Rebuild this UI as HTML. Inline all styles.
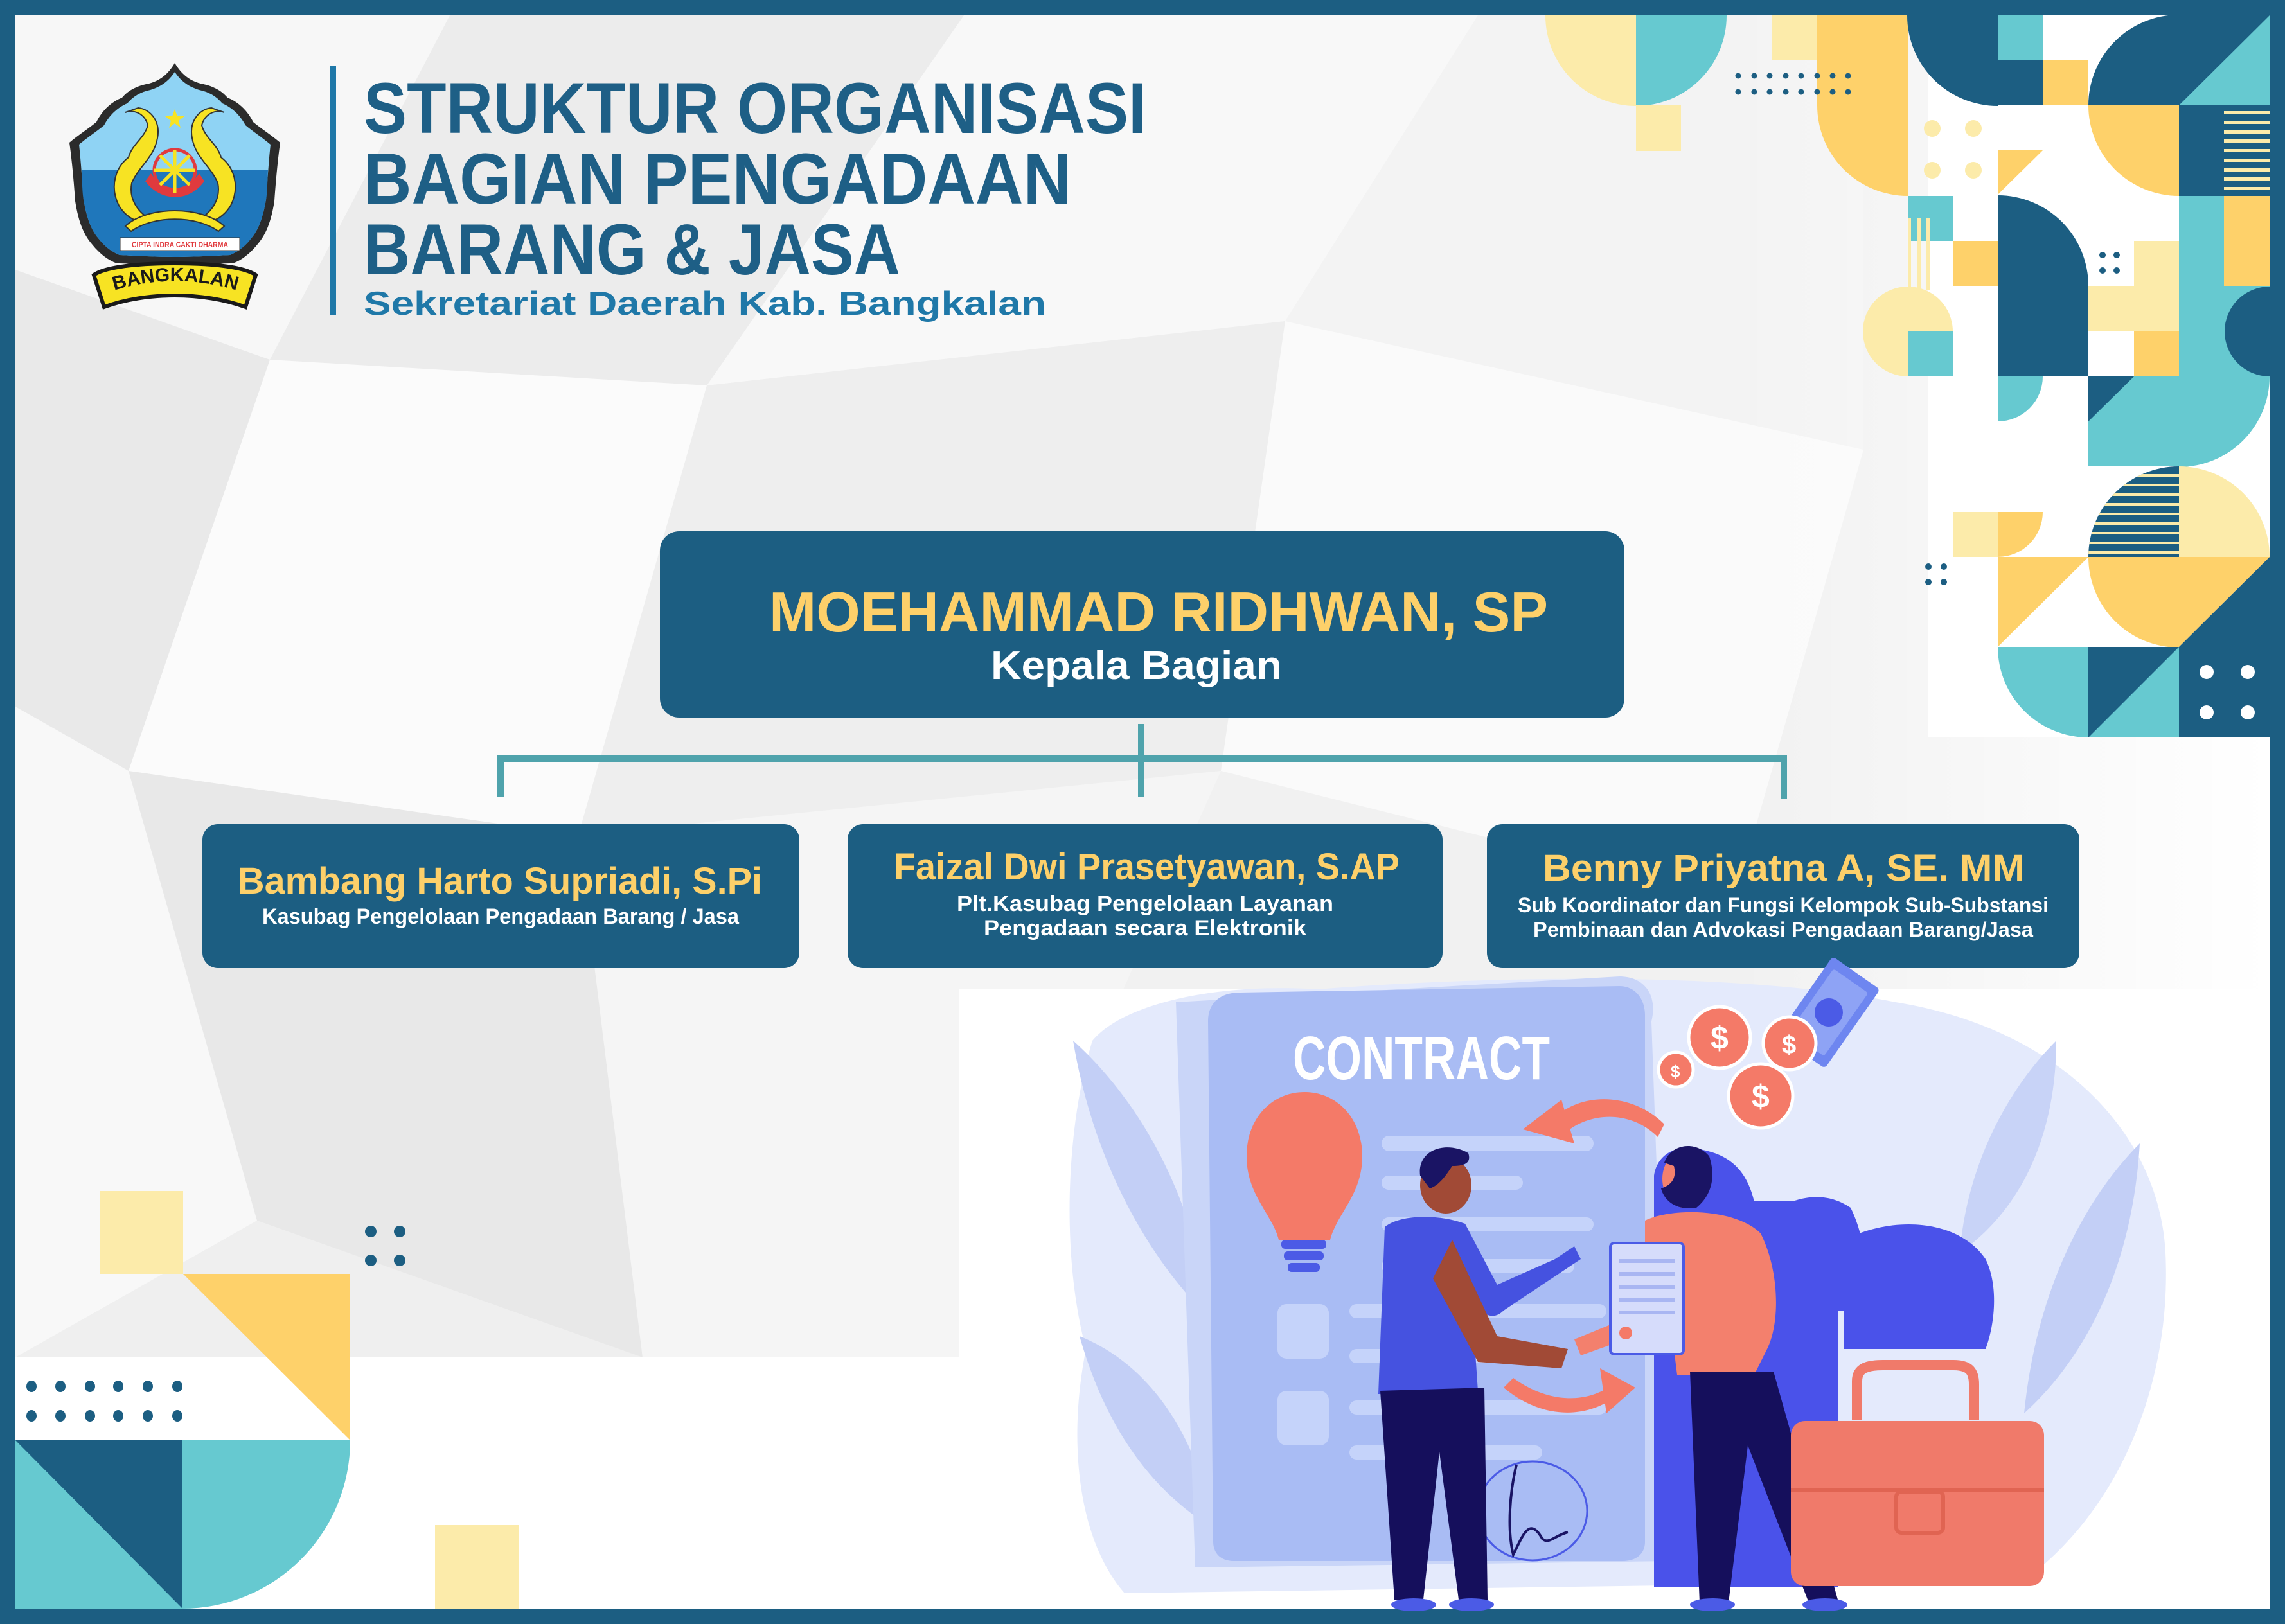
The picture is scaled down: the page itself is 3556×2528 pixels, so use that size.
<!DOCTYPE html>
<html><head><meta charset="utf-8"><style>
html,body{margin:0;padding:0;width:3556px;height:2528px;overflow:hidden;background:#fff}
svg{display:block}
text{font-family:"Liberation Sans",sans-serif;font-weight:bold}
</style></head><body>
<svg width="3556" height="2528" viewBox="0 0 3556 2528" xmlns="http://www.w3.org/2000/svg">
<defs>
<clipPath id="qtl"><path d="M3391,867 L3250,867 A141 141 0 0 1 3391,726 Z"/></clipPath>
<clipPath id="bgclip"><path d="M24,24 H3532 V1540 H1492 V2113 H24 Z"/></clipPath>
<linearGradient id="fadeR" x1="0" x2="1" y1="0" y2="0"><stop offset="0" stop-color="#fff" stop-opacity="0"/><stop offset="1" stop-color="#fff" stop-opacity="1"/></linearGradient>
</defs>
<rect width="3556" height="2528" fill="#1c5e82"/>
<rect x="24" y="24" width="3508" height="2480" fill="#fff"/>
<!-- grey polygon background -->
<g clip-path="url(#bgclip)">
<rect x="24" y="24" width="3508" height="2100" fill="#f1f1f1"/>
<polygon points="24,24 700,24 420,560 24,420" fill="#f7f7f7"/>
<polygon points="700,24 1500,24 1100,600 420,560" fill="#ececec"/>
<polygon points="1500,24 2300,24 2000,500 1100,600" fill="#f8f8f8"/>
<polygon points="2300,24 2900,24 2900,700 2000,500" fill="#f3f3f3"/>
<polygon points="24,420 420,560 200,1200 24,1100" fill="#e9e9e9"/>
<polygon points="420,560 1100,600 900,1300 200,1200" fill="#fbfbfb"/>
<polygon points="1100,600 2000,500 1900,1200 900,1300" fill="#eeeeee"/>
<polygon points="2000,500 2900,700 2700,1400 1900,1200" fill="#fafafa"/>
<polygon points="24,1100 200,1200 400,1900 24,2113" fill="#f8f8f8"/>
<polygon points="200,1200 900,1300 1000,2113 400,1900" fill="#e8e8e8"/>
<polygon points="900,1300 1900,1200 1492,2113 1000,2113" fill="#f5f5f5"/>
<polygon points="400,1900 1000,2113 24,2113" fill="#efefef"/>
<rect x="2700" y="24" width="832" height="1520" fill="url(#fadeR)"/>
</g>
<rect x="3000" y="24" width="532" height="1124" fill="#fff"/>

<!-- top-right decor -->
<path d="M2546,24 L2405,24 A141 141 0 0 0 2546,165 Z" fill="#fcebaa"/>
<path d="M2546,24 L2687,24 A141 141 0 0 1 2546,165 Z" fill="#66c9d0"/>
<rect x="2546" y="164" width="70" height="71" fill="#fcebaa"/>
<rect x="2757" y="24" width="71" height="70" fill="#fcebaa"/>
<rect x="2828" y="24" width="141" height="141" fill="#fed16a"/>
<path d="M2969,164 L2828,164 A141 141 0 0 0 2969,305 Z" fill="#fed16a"/>
<g fill="#1c5e82">
<circle cx="2705" cy="118" r="4.5"/><circle cx="2730" cy="118" r="4.5"/><circle cx="2754" cy="118" r="4.5"/><circle cx="2779" cy="118" r="4.5"/><circle cx="2803" cy="118" r="4.5"/><circle cx="2828" cy="118" r="4.5"/><circle cx="2852" cy="118" r="4.5"/><circle cx="2876" cy="118" r="4.5"/>
<circle cx="2705" cy="143" r="4.5"/><circle cx="2730" cy="143" r="4.5"/><circle cx="2754" cy="143" r="4.5"/><circle cx="2779" cy="143" r="4.5"/><circle cx="2803" cy="143" r="4.5"/><circle cx="2828" cy="143" r="4.5"/><circle cx="2852" cy="143" r="4.5"/><circle cx="2876" cy="143" r="4.5"/>
</g>
<path d="M3109,24 L2968,24 A141 141 0 0 0 3109,165 Z" fill="#1c5e82"/>
<rect x="3109" y="24" width="70" height="70" fill="#66c9d0"/>
<rect x="3109" y="94" width="70" height="70" fill="#1c5e82"/>
<rect x="3179" y="94" width="71" height="70" fill="#fed16a"/>
<path d="M3391,164 L3250,164 A141 141 0 0 1 3391,23 Z" fill="#1c5e82"/>
<rect x="3391" y="24" width="141" height="140" fill="#1c5e82"/>
<polygon points="3391,164 3532,24 3532,164" fill="#66c9d0"/>
<path d="M3391,164 L3250,164 A141 141 0 0 0 3391,305 Z" fill="#fed16a"/>
<rect x="3391" y="164" width="141" height="141" fill="#1c5e82"/>
<g fill="#fcebaa"><rect x="3461" y="173" width="71" height="5"/><rect x="3461" y="188" width="71" height="5"/><rect x="3461" y="203" width="71" height="5"/><rect x="3461" y="217" width="71" height="5"/><rect x="3461" y="232" width="71" height="5"/><rect x="3461" y="247" width="71" height="5"/><rect x="3461" y="262" width="71" height="5"/><rect x="3461" y="276" width="71" height="5"/><rect x="3461" y="291" width="71" height="5"/></g>
<g fill="#fcebaa"><circle cx="3007" cy="200" r="13"/><circle cx="3071" cy="200" r="13"/><circle cx="3007" cy="265" r="13"/><circle cx="3071" cy="265" r="13"/></g>
<polygon points="3109,234 3179,234 3109,303" fill="#fed16a"/>
<rect x="2969" y="305" width="70" height="70" fill="#66c9d0"/>
<g fill="#fcebaa"><rect x="2969" y="340" width="5" height="112"/><rect x="2984" y="340" width="5" height="112"/><rect x="2998" y="340" width="5" height="112"/></g>
<rect x="3039" y="375" width="70" height="70" fill="#fed16a"/>
<path d="M3109,445 L3109,304 A141 141 0 0 1 3250,445 Z" fill="#1c5e82"/>
<g fill="#1c5e82"><circle cx="3272" cy="397" r="5"/><circle cx="3294" cy="397" r="5"/><circle cx="3272" cy="421" r="5"/><circle cx="3294" cy="421" r="5"/></g>
<rect x="3321" y="375" width="70" height="70" fill="#fcebaa"/>
<rect x="3391" y="305" width="70" height="140" fill="#66c9d0"/>
<rect x="3461" y="305" width="71" height="140" fill="#fed16a"/>
<circle cx="2969" cy="516" r="70" fill="#fcebaa"/>
<rect x="2969" y="516" width="70" height="70" fill="#66c9d0"/>
<rect x="3109" y="445" width="141" height="141" fill="#1c5e82"/>
<rect x="3250" y="445" width="141" height="71" fill="#fcebaa"/>
<rect x="3321" y="516" width="70" height="70" fill="#fed16a"/>
<rect x="3391" y="445" width="141" height="141" fill="#66c9d0"/>
<path d="M3532,446 A70 70 0 0 0 3532,586 Z" fill="#1c5e82"/>
<path d="M3109,586 L3179,586 A70 70 0 0 1 3109,656 Z" fill="#66c9d0"/>
<rect x="3250" y="586" width="141" height="140" fill="#66c9d0"/>
<polygon points="3250,586 3321,586 3250,656" fill="#1c5e82"/>
<path d="M3391,586 L3532,586 A141 141 0 0 1 3391,727 Z" fill="#66c9d0"/>
<rect x="3039" y="797" width="70" height="70" fill="#fcebaa"/>
<path d="M3109,797 L3179,797 A70 70 0 0 1 3109,867 Z" fill="#fed16a"/>
<path d="M3391,867 L3250,867 A141 141 0 0 1 3391,726 Z" fill="#1c5e82"/>
<g clip-path="url(#qtl)" fill="#fcebaa"><rect x="3250" y="738" width="141" height="4"/><rect x="3250" y="753" width="141" height="4"/><rect x="3250" y="768" width="141" height="4"/><rect x="3250" y="783" width="141" height="4"/><rect x="3250" y="798" width="141" height="4"/><rect x="3250" y="813" width="141" height="4"/><rect x="3250" y="828" width="141" height="4"/><rect x="3250" y="843" width="141" height="4"/><rect x="3250" y="858" width="141" height="4"/></g>
<path d="M3391,867 L3391,726 A141 141 0 0 1 3532,867 Z" fill="#fcebaa"/>
<g fill="#1c5e82"><circle cx="3001" cy="882" r="5"/><circle cx="3025" cy="882" r="5"/><circle cx="3001" cy="906" r="5"/><circle cx="3025" cy="906" r="5"/></g>
<polygon points="3109,867 3250,867 3109,1007" fill="#fed16a"/>
<path d="M3391,867 L3250,867 A141 141 0 0 0 3391,1008 Z" fill="#fed16a"/>
<polygon points="3391,867 3532,867 3391,1007" fill="#fed16a"/>
<polygon points="3532,867 3532,1007 3391,1007" fill="#1c5e82"/>
<path d="M3250,1007 L3109,1007 A141 141 0 0 0 3250,1148 Z" fill="#66c9d0"/>
<rect x="3250" y="1007" width="141" height="141" fill="#66c9d0"/>
<polygon points="3250,1007 3391,1007 3250,1148" fill="#1c5e82"/>
<rect x="3391" y="1007" width="141" height="141" fill="#1c5e82"/>
<g fill="#fff"><circle cx="3434" cy="1046" r="11"/><circle cx="3498" cy="1046" r="11"/><circle cx="3434" cy="1109" r="11"/><circle cx="3498" cy="1109" r="11"/></g>

<!-- bottom-left decor -->
<rect x="156" y="1854" width="129" height="129" fill="#fcebaa"/>
<polygon points="285,1983 545,1983 545,2242" fill="#fed16a"/>
<g fill="#1c5e82">
<ellipse cx="49" cy="2158" rx="8" ry="9"/><ellipse cx="94" cy="2158" rx="8" ry="9"/><ellipse cx="140" cy="2158" rx="8" ry="9"/><ellipse cx="184" cy="2158" rx="8" ry="9"/><ellipse cx="230" cy="2158" rx="8" ry="9"/><ellipse cx="276" cy="2158" rx="8" ry="9"/>
<ellipse cx="49" cy="2204" rx="8" ry="9"/><ellipse cx="94" cy="2204" rx="8" ry="9"/><ellipse cx="140" cy="2204" rx="8" ry="9"/><ellipse cx="184" cy="2204" rx="8" ry="9"/><ellipse cx="230" cy="2204" rx="8" ry="9"/><ellipse cx="276" cy="2204" rx="8" ry="9"/>
<ellipse cx="577" cy="1917" rx="9" ry="9"/><ellipse cx="622" cy="1917" rx="9" ry="9"/><ellipse cx="577" cy="1962" rx="9" ry="9"/><ellipse cx="622" cy="1962" rx="9" ry="9"/>
</g>
<rect x="24" y="2242" width="260" height="262" fill="#1c5e82"/>
<polygon points="24,2242 284,2504 24,2504" fill="#66c9d0"/>
<path d="M284,2242 L545,2242 A261 262 0 0 1 284,2504 Z" fill="#66c9d0"/>
<rect x="677" y="2374" width="131" height="130" fill="#fcebaa"/>

<!-- logo -->
<path d="M272,98 C262,115 250,125 232,130 C215,133 200,140 190,152 C175,158 160,170 150,190 C138,200 122,210 108,222 C112,250 115,285 117,313 C122,345 130,365 143,380 C155,395 168,405 182,410 C205,410 240,413 272,413 C304,413 339,410 362,410 C376,405 389,395 401,380 C414,365 422,345 427,313 C429,285 432,250 436,222 C422,210 406,200 394,190 C384,170 369,158 354,152 C344,140 329,133 312,130 C294,125 282,115 272,98 Z" fill="#2b2b2b"/>
<path d="M272,112 C262,127 250,135 234,140 C219,143 207,150 198,161 C184,167 171,178 162,195 C150,205 136,214 123,225 C126,252 128,285 130,311 C135,340 142,358 153,371 C163,384 174,392 186,397 C208,398 240,400 272,400 C304,400 336,398 358,397 C370,392 381,384 391,371 C402,358 409,340 414,311 C416,285 418,252 421,225 C408,214 394,205 382,195 C373,178 360,167 346,161 C337,150 325,143 310,140 C294,135 282,127 272,112 Z" fill="#8fd3f4"/>
<path d="M127,265 H417 C416,285 416,300 414,311 C409,340 402,358 391,371 C381,384 370,392 358,397 C336,398 304,400 272,400 C240,400 208,398 186,397 C174,392 163,384 153,371 C142,358 135,340 130,311 C128,300 128,285 127,265 Z" fill="#1f77bb"/>
<path d="M195,175 C205,170 225,175 230,195 C225,215 205,225 200,245 C180,260 170,290 185,320 C200,345 225,350 232,340 C215,330 200,310 205,285 C215,260 240,245 245,215 C250,190 235,170 215,168 Z" fill="#f7e323" stroke="#333" stroke-width="2"/>
<path d="M349,175 C339,170 319,175 314,195 C319,215 339,225 344,245 C364,260 374,290 359,320 C344,345 319,350 312,340 C329,330 344,310 339,285 C329,260 304,245 299,215 C294,190 309,170 329,168 Z" fill="#f7e323" stroke="#333" stroke-width="2"/>
<circle cx="272" cy="265" r="32" fill="none" stroke="#e03a3e" stroke-width="5"/>
<path d="M235,270 C255,300 290,300 310,270 L318,282 C295,315 250,315 226,282 Z" fill="#e03a3e"/>
<g stroke="#f7e323" stroke-width="5"><line x1="272" y1="233" x2="272" y2="300"/><line x1="240" y1="265" x2="304" y2="265"/><line x1="249" y1="242" x2="295" y2="288"/><line x1="295" y1="242" x2="249" y2="288"/></g>
<path d="M195,352 C230,320 314,320 349,352 L340,360 C305,335 239,335 204,360 Z" fill="#f7e323" stroke="#333" stroke-width="2"/>
<polygon points="272,170 276,181 287,181 278,188 281,199 272,192 263,199 266,188 257,181 268,181" fill="#f7e323"/>
<rect x="187" y="370" width="186" height="20" fill="#fff" stroke="#333" stroke-width="1"/>
<text x="280" y="385" font-size="12" fill="#e03a3e" text-anchor="middle" textLength="150" lengthAdjust="spacingAndGlyphs">CIPTA INDRA CAKTI DHARMA</text>
<path d="M146,428 C160,418 200,410 272,410 C344,410 384,418 398,428 L382,478 C350,466 310,460 272,460 C234,460 194,466 162,478 Z" fill="#f7e323" stroke="#1a1a1a" stroke-width="6"/>
<path id="barc" d="M168,455 Q272,420 378,455" fill="none"/>
<text font-size="30" fill="#1a1a1a"><textPath href="#barc" startOffset="50%" text-anchor="middle">BANGKALAN</textPath></text>

<!-- title -->
<rect x="513" y="103" width="10" height="387" fill="#1f78a8"/>
<text x="566" y="207" font-size="112" fill="#1e5f86" textLength="1218" lengthAdjust="spacingAndGlyphs">STRUKTUR ORGANISASI</text>
<text x="566" y="317" font-size="112" fill="#1e5f86" textLength="1101" lengthAdjust="spacingAndGlyphs">BAGIAN PENGADAAN</text>
<text x="566" y="427" font-size="112" fill="#1e5f86" textLength="835" lengthAdjust="spacingAndGlyphs">BARANG &amp; JASA</text>
<text x="566" y="490" font-size="52" fill="#1f78a8" textLength="1062" lengthAdjust="spacingAndGlyphs">Sekretariat Daerah Kab. Bangkalan</text>

<!-- org chart -->
<rect x="1027" y="827" width="1501" height="290" rx="30" fill="#1c5e82"/>
<text x="1197" y="983" font-size="88" fill="#fdd06a" textLength="1212" lengthAdjust="spacingAndGlyphs">MOEHAMMAD RIDHWAN, SP</text>
<text x="1542" y="1057" font-size="62" fill="#fff" textLength="453" lengthAdjust="spacingAndGlyphs">Kepala Bagian</text>
<g fill="#4fa3ac">
<rect x="1771" y="1127" width="10" height="113"/>
<rect x="776" y="1176" width="2003" height="10"/>
<rect x="774" y="1176" width="10" height="64"/>
<rect x="2771" y="1176" width="10" height="67"/>
</g>
<rect x="315" y="1283" width="929" height="224" rx="24" fill="#1c5e82"/>
<rect x="1319" y="1283" width="926" height="224" rx="24" fill="#1c5e82"/>
<rect x="2314" y="1283" width="922" height="224" rx="24" fill="#1c5e82"/>
<text x="370" y="1391" font-size="58" fill="#fdd06a" textLength="816" lengthAdjust="spacingAndGlyphs">Bambang Harto Supriadi, S.Pi</text>
<text x="408" y="1438" font-size="34" fill="#fff" textLength="742" lengthAdjust="spacingAndGlyphs">Kasubag Pengelolaan Pengadaan Barang / Jasa</text>
<text x="1391" y="1369" font-size="58" fill="#fdd06a" textLength="787" lengthAdjust="spacingAndGlyphs">Faizal Dwi Prasetyawan, S.AP</text>
<text x="1489" y="1418" font-size="34" fill="#fff" textLength="586" lengthAdjust="spacingAndGlyphs">Plt.Kasubag Pengelolaan Layanan</text>
<text x="1531" y="1456" font-size="34" fill="#fff" textLength="502" lengthAdjust="spacingAndGlyphs">Pengadaan secara Elektronik</text>
<text x="2401" y="1371" font-size="58" fill="#fdd06a" textLength="750" lengthAdjust="spacingAndGlyphs">Benny Priyatna A, SE. MM</text>
<text x="2362" y="1420" font-size="32" fill="#fff" textLength="826" lengthAdjust="spacingAndGlyphs">Sub Koordinator dan Fungsi Kelompok Sub-Substansi</text>
<text x="2386" y="1458" font-size="32" fill="#fff" textLength="778" lengthAdjust="spacingAndGlyphs">Pembinaan dan Advokasi Pengadaan Barang/Jasa</text>

<!-- illustration -->
<path d="M1700,1620 C1750,1560 1900,1530 2050,1540 C2300,1520 2700,1510 2950,1560 C3200,1600 3360,1760 3370,1950 C3380,2150 3300,2350 3150,2460 L1750,2480 C1680,2400 1660,2250 1690,2100 C1650,1950 1660,1750 1700,1620 Z" fill="#e4eafc"/>
<path d="M1670,1620 C1760,1700 1860,1850 1880,2050 C1780,1950 1700,1800 1670,1620 Z" fill="#c3cff6"/>
<path d="M1680,2080 C1780,2120 1860,2220 1890,2380 C1790,2320 1720,2220 1680,2080 Z" fill="#c3cff6"/>
<path d="M3330,1780 C3250,1860 3170,2000 3150,2200 C3260,2100 3320,1950 3330,1780 Z" fill="#c3cff6"/>
<path d="M3200,1620 C3120,1700 3060,1820 3050,1950 C3150,1880 3200,1760 3200,1620 Z" fill="#c8d3f7"/>
<path d="M1830,1560 L2520,1520 C2560,1520 2580,1550 2570,1590 L2600,2430 L1860,2440 Z" fill="#c9d5f8"/>
<path d="M2574,1830 C2580,1790 2620,1780 2650,1790 C2700,1800 2720,1830 2730,1870 L2790,1870 C2820,1860 2850,1860 2880,1880 C2900,1920 2910,1980 2900,2040 L2860,2040 L2860,2470 L2574,2470 Z" fill="#4a52ea"/>
<path d="M2870,1930 C2950,1890 3050,1900 3090,1960 C3110,2000 3105,2060 3090,2100 L2870,2100 Z" fill="#4a52ea"/>
<path d="M1880,1590 C1880,1560 1900,1545 1930,1545 L2520,1535 C2545,1535 2560,1555 2560,1580 L2560,2400 C2560,2420 2545,2430 2525,2430 L1920,2430 C1900,2430 1888,2418 1888,2400 Z" fill="#a9bcf4"/>
<g fill="#c5d3fa">
<rect x="2150" y="1768" width="330" height="24" rx="12"/><rect x="2150" y="1830" width="220" height="22" rx="11"/><rect x="2150" y="1895" width="330" height="22" rx="11"/><rect x="2150" y="1960" width="300" height="22" rx="11"/><rect x="2100" y="2030" width="400" height="22" rx="11"/><rect x="2100" y="2100" width="300" height="22" rx="11"/><rect x="2100" y="2180" width="400" height="22" rx="11"/><rect x="2100" y="2250" width="300" height="22" rx="11"/>
<rect x="1988" y="2030" width="80" height="85" rx="14"/><rect x="1988" y="2165" width="80" height="85" rx="14"/>
</g>
<text x="2012" y="1680" font-size="96" fill="#fff" textLength="400" lengthAdjust="spacingAndGlyphs">CONTRACT</text>
<path d="M2030,1700 C2080,1700 2120,1740 2120,1800 C2120,1860 2080,1890 2070,1930 L1990,1930 C1980,1890 1940,1860 1940,1800 C1940,1740 1980,1700 2030,1700 Z" fill="#f47a68"/>
<g fill="#4b5be6"><rect x="1994" y="1930" width="70" height="14" rx="6"/><rect x="1998" y="1948" width="62" height="14" rx="6"/><rect x="2004" y="1966" width="50" height="14" rx="6"/></g>
<g transform="rotate(-55 2846 1576)"><rect x="2771" y="1531" width="150" height="90" rx="6" fill="#6e86f0"/><rect x="2786" y="1543" width="120" height="66" rx="4" fill="#8ea3f5"/><circle cx="2846" cy="1576" r="22" fill="#4b5be6"/></g>
<g fill="#f47a68" stroke="#fff" stroke-width="5"><circle cx="2676" cy="1615" r="48"/><circle cx="2785" cy="1624" r="41"/><circle cx="2608" cy="1665" r="27"/><circle cx="2740" cy="1706" r="50"/></g>
<g fill="#fff" font-size="50"><text x="2662" y="1633">$</text><text x="2773" y="1640" font-size="40">$</text><text x="2600" y="1677" font-size="26">$</text><text x="2726" y="1724">$</text></g>
<path d="M2590,1750 C2540,1700 2460,1700 2420,1740 L2440,1760 C2480,1730 2540,1730 2580,1770 Z" fill="#f47a68"/>
<polygon points="2370,1758 2430,1712 2450,1780" fill="#f47a68"/>
<path d="M2340,2160 C2400,2210 2470,2210 2520,2170 L2510,2155 C2470,2185 2410,2185 2355,2145 Z" fill="#f47a68"/>
<polygon points="2545,2160 2490,2130 2500,2200" fill="#f47a68"/>
<ellipse cx="2385" cy="2352" rx="85" ry="77" fill="none" stroke="#4b5be6" stroke-width="3"/>
<path d="M2360,2280 C2350,2320 2345,2380 2355,2420 C2370,2390 2380,2360 2400,2395 C2410,2405 2420,2390 2440,2385" fill="none" stroke="#1a1464" stroke-width="4"/>
<!-- person 1 -->
<path d="M2155,1910 C2180,1890 2240,1890 2280,1905 L2330,2000 L2420,1960 L2450,1940 L2460,1960 L2340,2040 C2320,2060 2300,2040 2290,2020 L2300,2165 L2145,2170 Z" fill="#4552e0"/>
<path d="M2260,1930 L2330,2080 L2440,2100 L2430,2130 L2300,2120 L2230,1990 Z" fill="#a14a36"/>
<path d="M2148,2165 L2310,2160 L2315,2490 L2270,2490 L2240,2260 L2215,2490 L2170,2490 Z" fill="#150f5c"/>
<ellipse cx="2250" cy="1845" rx="40" ry="44" fill="#a14a36"/>
<path d="M2210,1830 C2205,1790 2250,1775 2285,1795 C2290,1810 2280,1815 2260,1815 C2250,1830 2240,1845 2225,1850 Z" fill="#1a1464"/>
<!-- person 2 -->
<path d="M2560,1900 C2600,1880 2700,1880 2740,1920 C2770,1980 2770,2060 2750,2100 L2730,2140 L2610,2140 L2600,2060 L2460,2110 L2450,2085 L2560,2040 Z" fill="#f3806d"/>
<rect x="2506" y="1935" width="114" height="173" rx="6" fill="#d6dcfb" stroke="#4b5be6" stroke-width="4"/>
<g fill="#a9b6f2"><rect x="2520" y="1960" width="86" height="6"/><rect x="2520" y="1980" width="86" height="6"/><rect x="2520" y="2000" width="86" height="6"/><rect x="2520" y="2020" width="86" height="6"/><rect x="2520" y="2040" width="86" height="6"/></g>
<circle cx="2530" cy="2075" r="10" fill="#f47a68"/>
<path d="M2690,1950 C2730,1990 2740,2050 2700,2080 L2630,2060 L2640,2040 L2690,2040 Z" fill="#f3806d"/>
<path d="M2630,2135 L2760,2135 L2860,2490 L2815,2495 L2720,2250 L2690,2495 L2645,2495 Z" fill="#150f5c"/>
<ellipse cx="2625" cy="1835" rx="38" ry="46" fill="#f3806d"/>
<path d="M2590,1810 C2600,1780 2640,1775 2660,1800 C2670,1830 2665,1860 2640,1880 C2610,1885 2590,1870 2585,1850 C2600,1845 2610,1835 2605,1815 Z" fill="#1a1464"/>
<g fill="#4b5be6"><ellipse cx="2200" cy="2498" rx="35" ry="10"/><ellipse cx="2290" cy="2498" rx="35" ry="10"/><ellipse cx="2665" cy="2498" rx="35" ry="10"/><ellipse cx="2840" cy="2498" rx="35" ry="10"/></g>
<!-- briefcase -->
<path d="M2890,2210 L2890,2150 C2890,2130 2905,2125 2930,2125 L3040,2125 C3065,2125 3072,2135 3072,2155 L3072,2210" fill="none" stroke="#f07a6a" stroke-width="16"/>
<rect x="2787" y="2212" width="394" height="257" rx="22" fill="#f07a6a"/>
<path d="M2787,2320 L3181,2320" stroke="#e06452" stroke-width="6"/>
<rect x="2951" y="2322" width="73" height="64" rx="8" fill="#f07a6a" stroke="#e06452" stroke-width="6"/>
</svg>
</body></html>
